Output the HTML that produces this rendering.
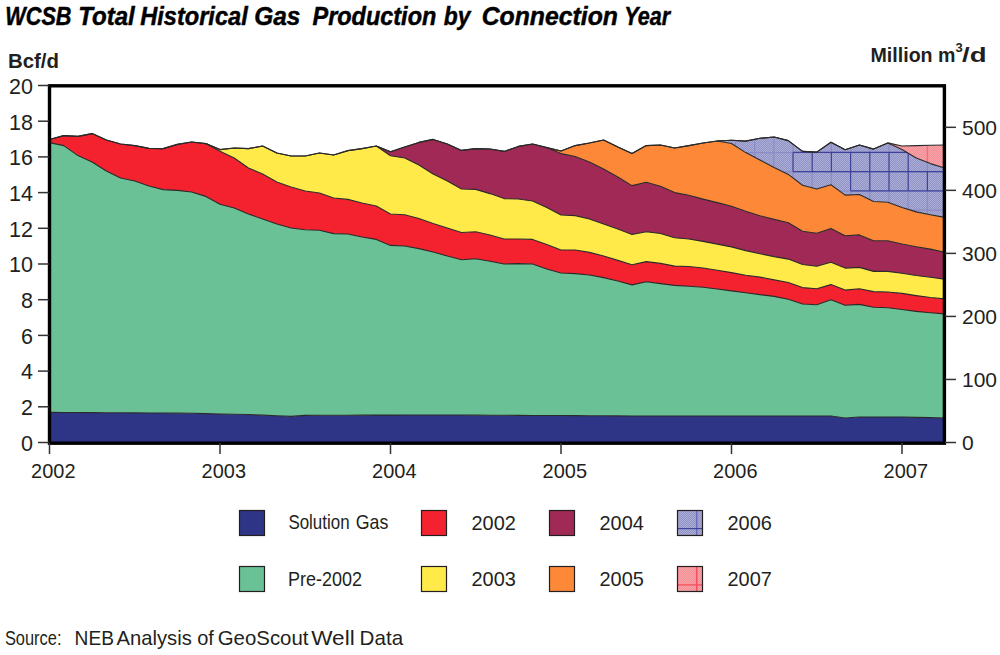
<!DOCTYPE html>
<html><head><meta charset="utf-8"><style>html,body{margin:0;padding:0;background:#fff;width:1000px;height:655px;overflow:hidden;position:relative}</style></head>
<body>
<svg width="1000" height="655" viewBox="0 0 1000 655" style="position:absolute;left:0;top:0">
<defs>
<pattern id="dz" width="2" height="2" patternUnits="userSpaceOnUse"><rect x="0" y="0" width="1" height="1" fill="#fff" opacity="0.16"/><rect x="1" y="1" width="1" height="1" fill="#fff" opacity="0.16"/><rect x="1" y="0" width="1" height="1" fill="#1a1f80" opacity="0.08"/><rect x="0" y="1" width="1" height="1" fill="#1a1f80" opacity="0.08"/></pattern>
<pattern id="dp" width="2" height="2" patternUnits="userSpaceOnUse"><rect x="0" y="0" width="1" height="1" fill="#fff" opacity="0.16"/><rect x="1" y="1" width="1" height="1" fill="#fff" opacity="0.16"/><rect x="1" y="0" width="1" height="1" fill="#e0202e" opacity="0.08"/><rect x="0" y="1" width="1" height="1" fill="#e0202e" opacity="0.08"/></pattern>
<clipPath id="c6"><path d="M717.29,141.00 L731.50,140.30 L745.71,141.10 L759.91,138.30 L774.12,137.00 L788.33,140.60 L802.54,151.40 L816.75,152.10 L830.96,142.20 L845.16,149.80 L859.37,145.00 L873.58,149.10 L887.79,142.90 L902.00,149.50 L916.21,158.00 L930.41,163.60 L944.62,168.00 L944.62,217.40 L930.41,214.70 L916.21,211.90 L902.00,207.50 L887.79,202.20 L873.58,201.50 L859.37,194.50 L845.16,195.10 L830.96,184.80 L816.75,189.00 L802.54,185.30 L788.33,174.40 L774.12,167.50 L759.91,160.00 L745.71,152.60 L731.50,143.50 L717.29,141.00Z"/></clipPath><clipPath id="c7"><path d="M887.79,142.90 L902.00,146.00 L916.21,145.60 L930.41,145.30 L944.62,145.00 L944.62,168.00 L930.41,163.60 L916.21,158.00 L902.00,149.50 L887.79,142.90Z"/></clipPath>
<clipPath id="plot"><rect x="49.5" y="85.8" width="895" height="357"/></clipPath>
</defs>
<g clip-path="url(#plot)">
<path d="M49.50,412.40 L63.71,412.47 L77.92,412.53 L92.12,412.60 L106.33,412.70 L120.54,412.80 L134.75,412.90 L148.96,413.00 L163.17,413.07 L177.37,413.13 L191.58,413.20 L205.79,413.60 L220.00,414.00 L234.21,414.25 L248.42,414.50 L262.62,415.15 L276.83,415.80 L291.04,416.40 L305.25,415.40 L319.46,415.30 L333.67,415.20 L347.87,415.18 L362.08,415.15 L376.29,415.12 L390.50,415.10 L404.71,415.07 L418.92,415.05 L433.12,415.02 L447.33,415.00 L461.54,415.07 L475.75,415.14 L489.96,415.21 L504.17,415.29 L518.37,415.36 L532.58,415.43 L546.79,415.50 L561.00,415.57 L575.21,415.64 L589.42,415.71 L603.62,415.79 L617.83,415.86 L632.04,415.93 L646.25,416.00 L660.46,416.00 L674.67,416.00 L688.87,416.00 L703.08,416.00 L717.29,416.00 L731.50,416.00 L745.71,416.00 L759.91,416.00 L774.12,416.00 L788.33,416.00 L802.54,416.00 L816.75,416.00 L830.96,416.00 L845.16,418.00 L859.37,417.00 L873.58,417.00 L887.79,417.00 L902.00,417.00 L916.21,417.33 L930.41,417.67 L944.62,418.00 L944.62,442.75 L930.41,442.75 L916.21,442.75 L902.00,442.75 L887.79,442.75 L873.58,442.75 L859.37,442.75 L845.16,442.75 L830.96,442.75 L816.75,442.75 L802.54,442.75 L788.33,442.75 L774.12,442.75 L759.91,442.75 L745.71,442.75 L731.50,442.75 L717.29,442.75 L703.08,442.75 L688.87,442.75 L674.67,442.75 L660.46,442.75 L646.25,442.75 L632.04,442.75 L617.83,442.75 L603.62,442.75 L589.42,442.75 L575.21,442.75 L561.00,442.75 L546.79,442.75 L532.58,442.75 L518.37,442.75 L504.17,442.75 L489.96,442.75 L475.75,442.75 L461.54,442.75 L447.33,442.75 L433.12,442.75 L418.92,442.75 L404.71,442.75 L390.50,442.75 L376.29,442.75 L362.08,442.75 L347.87,442.75 L333.67,442.75 L319.46,442.75 L305.25,442.75 L291.04,442.75 L276.83,442.75 L262.62,442.75 L248.42,442.75 L234.21,442.75 L220.00,442.75 L205.79,442.75 L191.58,442.75 L177.37,442.75 L163.17,442.75 L148.96,442.75 L134.75,442.75 L120.54,442.75 L106.33,442.75 L92.12,442.75 L77.92,442.75 L63.71,442.75 L49.50,442.75Z" fill="#2f3586" />
<path d="M49.50,142.60 L63.71,145.60 L77.92,155.60 L92.12,162.00 L106.33,171.00 L120.54,178.00 L134.75,181.00 L148.96,186.00 L163.17,189.60 L177.37,190.40 L191.58,192.00 L205.79,196.40 L220.00,204.20 L234.21,208.00 L248.42,214.00 L262.62,219.00 L276.83,224.00 L291.04,228.00 L305.25,229.80 L319.46,230.20 L333.67,233.60 L347.87,234.00 L362.08,237.00 L376.29,239.40 L390.50,245.40 L404.71,246.00 L418.92,248.60 L433.12,252.00 L447.33,256.00 L461.54,259.80 L475.75,258.80 L489.96,261.30 L504.17,264.00 L518.37,263.60 L532.58,264.00 L546.79,269.00 L561.00,273.00 L575.21,273.60 L589.42,275.00 L603.62,277.60 L617.83,281.00 L632.04,284.90 L646.25,281.70 L660.46,283.60 L674.67,285.40 L688.87,286.30 L703.08,287.20 L717.29,289.00 L731.50,290.90 L745.71,292.70 L759.91,294.60 L774.12,296.40 L788.33,299.30 L802.54,304.00 L816.75,304.80 L830.96,299.80 L845.16,305.30 L859.37,304.40 L873.58,307.20 L887.79,307.70 L902.00,309.50 L916.21,311.40 L930.41,312.70 L944.62,313.90 L944.62,418.00 L930.41,417.67 L916.21,417.33 L902.00,417.00 L887.79,417.00 L873.58,417.00 L859.37,417.00 L845.16,418.00 L830.96,416.00 L816.75,416.00 L802.54,416.00 L788.33,416.00 L774.12,416.00 L759.91,416.00 L745.71,416.00 L731.50,416.00 L717.29,416.00 L703.08,416.00 L688.87,416.00 L674.67,416.00 L660.46,416.00 L646.25,416.00 L632.04,415.93 L617.83,415.86 L603.62,415.79 L589.42,415.71 L575.21,415.64 L561.00,415.57 L546.79,415.50 L532.58,415.43 L518.37,415.36 L504.17,415.29 L489.96,415.21 L475.75,415.14 L461.54,415.07 L447.33,415.00 L433.12,415.02 L418.92,415.05 L404.71,415.07 L390.50,415.10 L376.29,415.12 L362.08,415.15 L347.87,415.18 L333.67,415.20 L319.46,415.30 L305.25,415.40 L291.04,416.40 L276.83,415.80 L262.62,415.15 L248.42,414.50 L234.21,414.25 L220.00,414.00 L205.79,413.60 L191.58,413.20 L177.37,413.13 L163.17,413.07 L148.96,413.00 L134.75,412.90 L120.54,412.80 L106.33,412.70 L92.12,412.60 L77.92,412.53 L63.71,412.47 L49.50,412.40Z" fill="#6ac196" />
<path d="M49.50,139.50 L63.71,135.60 L77.92,136.40 L92.12,133.60 L106.33,140.00 L120.54,144.00 L134.75,145.60 L148.96,148.40 L163.17,148.60 L177.37,144.40 L191.58,142.00 L205.79,143.60 L220.00,151.20 L234.21,158.00 L248.42,168.00 L262.62,174.00 L276.83,182.00 L291.04,187.00 L305.25,191.00 L319.46,193.00 L333.67,198.00 L347.87,199.40 L362.08,203.00 L376.29,206.00 L390.50,214.00 L404.71,214.80 L418.92,218.50 L433.12,223.50 L447.33,228.00 L461.54,232.50 L475.75,231.80 L489.96,235.00 L504.17,239.00 L518.37,239.00 L532.58,239.40 L546.79,244.40 L561.00,250.00 L575.21,250.00 L589.42,252.40 L603.62,256.00 L617.83,260.40 L632.04,264.80 L646.25,261.60 L660.46,263.40 L674.67,266.10 L688.87,266.50 L703.08,268.00 L717.29,270.20 L731.50,272.60 L745.71,275.30 L759.91,277.10 L774.12,279.90 L788.33,282.50 L802.54,287.60 L816.75,288.80 L830.96,284.60 L845.16,290.10 L859.37,288.80 L873.58,291.60 L887.79,292.00 L902.00,293.40 L916.21,295.60 L930.41,297.50 L944.62,298.90 L944.62,313.90 L930.41,312.70 L916.21,311.40 L902.00,309.50 L887.79,307.70 L873.58,307.20 L859.37,304.40 L845.16,305.30 L830.96,299.80 L816.75,304.80 L802.54,304.00 L788.33,299.30 L774.12,296.40 L759.91,294.60 L745.71,292.70 L731.50,290.90 L717.29,289.00 L703.08,287.20 L688.87,286.30 L674.67,285.40 L660.46,283.60 L646.25,281.70 L632.04,284.90 L617.83,281.00 L603.62,277.60 L589.42,275.00 L575.21,273.60 L561.00,273.00 L546.79,269.00 L532.58,264.00 L518.37,263.60 L504.17,264.00 L489.96,261.30 L475.75,258.80 L461.54,259.80 L447.33,256.00 L433.12,252.00 L418.92,248.60 L404.71,246.00 L390.50,245.40 L376.29,239.40 L362.08,237.00 L347.87,234.00 L333.67,233.60 L319.46,230.20 L305.25,229.80 L291.04,228.00 L276.83,224.00 L262.62,219.00 L248.42,214.00 L234.21,208.00 L220.00,204.20 L205.79,196.40 L191.58,192.00 L177.37,190.40 L163.17,189.60 L148.96,186.00 L134.75,181.00 L120.54,178.00 L106.33,171.00 L92.12,162.00 L77.92,155.60 L63.71,145.60 L49.50,142.60Z" fill="#f4222e" />
<path d="M205.79,143.60 L220.00,149.60 L234.21,148.00 L248.42,148.60 L262.62,146.00 L276.83,153.00 L291.04,156.00 L305.25,156.00 L319.46,153.00 L333.67,155.00 L347.87,150.60 L362.08,148.60 L376.29,146.00 L390.50,155.80 L404.71,158.00 L418.92,165.00 L433.12,174.00 L447.33,181.00 L461.54,189.00 L475.75,189.40 L489.96,193.60 L504.17,198.60 L518.37,199.00 L532.58,201.00 L546.79,207.50 L561.00,215.00 L575.21,215.60 L589.42,219.00 L603.62,224.00 L617.83,229.00 L632.04,234.50 L646.25,231.70 L660.46,233.50 L674.67,237.70 L688.87,239.00 L703.08,241.40 L717.29,244.10 L731.50,246.90 L745.71,250.60 L759.91,253.70 L774.12,256.60 L788.33,259.10 L802.54,264.50 L816.75,266.30 L830.96,262.30 L845.16,268.10 L859.37,267.40 L873.58,271.40 L887.79,271.40 L902.00,273.30 L916.21,275.50 L930.41,277.30 L944.62,279.10 L944.62,298.90 L930.41,297.50 L916.21,295.60 L902.00,293.40 L887.79,292.00 L873.58,291.60 L859.37,288.80 L845.16,290.10 L830.96,284.60 L816.75,288.80 L802.54,287.60 L788.33,282.50 L774.12,279.90 L759.91,277.10 L745.71,275.30 L731.50,272.60 L717.29,270.20 L703.08,268.00 L688.87,266.50 L674.67,266.10 L660.46,263.40 L646.25,261.60 L632.04,264.80 L617.83,260.40 L603.62,256.00 L589.42,252.40 L575.21,250.00 L561.00,250.00 L546.79,244.40 L532.58,239.40 L518.37,239.00 L504.17,239.00 L489.96,235.00 L475.75,231.80 L461.54,232.50 L447.33,228.00 L433.12,223.50 L418.92,218.50 L404.71,214.80 L390.50,214.00 L376.29,206.00 L362.08,203.00 L347.87,199.40 L333.67,198.00 L319.46,193.00 L305.25,191.00 L291.04,187.00 L276.83,182.00 L262.62,174.00 L248.42,168.00 L234.21,158.00 L220.00,151.20 L205.79,143.60Z" fill="#ffea4a" />
<path d="M376.29,146.00 L390.50,151.80 L404.71,147.00 L418.92,142.40 L433.12,139.40 L447.33,144.00 L461.54,150.40 L475.75,148.60 L489.96,149.00 L504.17,151.40 L518.37,146.40 L532.58,144.00 L546.79,147.60 L561.00,153.60 L575.21,156.50 L589.42,162.00 L603.62,169.00 L617.83,177.00 L632.04,185.60 L646.25,182.30 L660.46,186.20 L674.67,192.60 L688.87,195.30 L703.08,199.10 L717.29,202.60 L731.50,206.30 L745.71,211.20 L759.91,215.70 L774.12,219.40 L788.33,222.70 L802.54,231.20 L816.75,233.30 L830.96,228.40 L845.16,235.80 L859.37,234.90 L873.58,240.70 L887.79,240.70 L902.00,244.00 L916.21,246.70 L930.41,249.10 L944.62,252.20 L944.62,279.10 L930.41,277.30 L916.21,275.50 L902.00,273.30 L887.79,271.40 L873.58,271.40 L859.37,267.40 L845.16,268.10 L830.96,262.30 L816.75,266.30 L802.54,264.50 L788.33,259.10 L774.12,256.60 L759.91,253.70 L745.71,250.60 L731.50,246.90 L717.29,244.10 L703.08,241.40 L688.87,239.00 L674.67,237.70 L660.46,233.50 L646.25,231.70 L632.04,234.50 L617.83,229.00 L603.62,224.00 L589.42,219.00 L575.21,215.60 L561.00,215.00 L546.79,207.50 L532.58,201.00 L518.37,199.00 L504.17,198.60 L489.96,193.60 L475.75,189.40 L461.54,189.00 L447.33,181.00 L433.12,174.00 L418.92,165.00 L404.71,158.00 L390.50,155.80 L376.29,146.00Z" fill="#a02a55" />
<path d="M546.79,147.60 L561.00,151.00 L575.21,145.60 L589.42,143.00 L603.62,140.00 L617.83,147.00 L632.04,153.40 L646.25,145.60 L660.46,145.00 L674.67,148.00 L688.87,145.60 L703.08,143.00 L717.29,141.00 L731.50,143.50 L745.71,152.60 L759.91,160.00 L774.12,167.50 L788.33,174.40 L802.54,185.30 L816.75,189.00 L830.96,184.80 L845.16,195.10 L859.37,194.50 L873.58,201.50 L887.79,202.20 L902.00,207.50 L916.21,211.90 L930.41,214.70 L944.62,217.40 L944.62,252.20 L930.41,249.10 L916.21,246.70 L902.00,244.00 L887.79,240.70 L873.58,240.70 L859.37,234.90 L845.16,235.80 L830.96,228.40 L816.75,233.30 L802.54,231.20 L788.33,222.70 L774.12,219.40 L759.91,215.70 L745.71,211.20 L731.50,206.30 L717.29,202.60 L703.08,199.10 L688.87,195.30 L674.67,192.60 L660.46,186.20 L646.25,182.30 L632.04,185.60 L617.83,177.00 L603.62,169.00 L589.42,162.00 L575.21,156.50 L561.00,153.60 L546.79,147.60Z" fill="#fd8938" />
<path d="M717.29,141.00 L731.50,140.30 L745.71,141.10 L759.91,138.30 L774.12,137.00 L788.33,140.60 L802.54,151.40 L816.75,152.10 L830.96,142.20 L845.16,149.80 L859.37,145.00 L873.58,149.10 L887.79,142.90 L902.00,149.50 L916.21,158.00 L930.41,163.60 L944.62,168.00 L944.62,217.40 L930.41,214.70 L916.21,211.90 L902.00,207.50 L887.79,202.20 L873.58,201.50 L859.37,194.50 L845.16,195.10 L830.96,184.80 L816.75,189.00 L802.54,185.30 L788.33,174.40 L774.12,167.50 L759.91,160.00 L745.71,152.60 L731.50,143.50 L717.29,141.00Z" fill="#9b9dcc" />
<path d="M887.79,142.90 L902.00,146.00 L916.21,145.60 L930.41,145.30 L944.62,145.00 L944.62,168.00 L930.41,163.60 L916.21,158.00 L902.00,149.50 L887.79,142.90Z" fill="#f6959b" />
<path d="M717.29,141.00 L731.50,140.30 L745.71,141.10 L759.91,138.30 L774.12,137.00 L788.33,140.60 L802.54,151.40 L816.75,152.10 L830.96,142.20 L845.16,149.80 L859.37,145.00 L873.58,149.10 L887.79,142.90 L902.00,149.50 L916.21,158.00 L930.41,163.60 L944.62,168.00 L944.62,217.40 L930.41,214.70 L916.21,211.90 L902.00,207.50 L887.79,202.20 L873.58,201.50 L859.37,194.50 L845.16,195.10 L830.96,184.80 L816.75,189.00 L802.54,185.30 L788.33,174.40 L774.12,167.50 L759.91,160.00 L745.71,152.60 L731.50,143.50 L717.29,141.00Z" fill="url(#dz)"/><path d="M887.79,142.90 L902.00,146.00 L916.21,145.60 L930.41,145.30 L944.62,145.00 L944.62,168.00 L930.41,163.60 L916.21,158.00 L902.00,149.50 L887.79,142.90Z" fill="url(#dp)"/><g clip-path="url(#c6)"><g stroke="#8a8cc3" stroke-width="1.2" fill="none"><line x1="735.4" y1="120" x2="735.4" y2="260"/><line x1="754.6" y1="120" x2="754.6" y2="260"/><line x1="773.8" y1="120" x2="773.8" y2="260"/><line x1="793.0" y1="120" x2="793.0" y2="260"/><line x1="812.2" y1="120" x2="812.2" y2="260"/><line x1="831.4" y1="120" x2="831.4" y2="260"/><line x1="850.6" y1="120" x2="850.6" y2="260"/><line x1="869.8" y1="120" x2="869.8" y2="260"/><line x1="889.0" y1="120" x2="889.0" y2="260"/><line x1="908.2" y1="120" x2="908.2" y2="260"/><line x1="927.4" y1="120" x2="927.4" y2="260"/><line x1="946.6" y1="120" x2="946.6" y2="260"/><line x1="700" y1="133.4" x2="950" y2="133.4"/><line x1="700" y1="152.6" x2="950" y2="152.6"/><line x1="700" y1="171.8" x2="950" y2="171.8"/><line x1="700" y1="191.0" x2="950" y2="191.0"/><line x1="700" y1="210.2" x2="950" y2="210.2"/><line x1="700" y1="229.4" x2="950" y2="229.4"/></g><g stroke="#2b2f8f" stroke-width="1.15" opacity="0.8"><line x1="793" y1="152.4" x2="908.2" y2="152.4"/><line x1="793" y1="171.6" x2="945" y2="171.6"/><line x1="850.6" y1="190.8" x2="945" y2="190.8"/><line x1="793" y1="152.4" x2="793" y2="171.6"/><line x1="812.2" y1="152.4" x2="812.2" y2="171.6"/><line x1="831.4" y1="152.4" x2="831.4" y2="171.6"/><line x1="850.6" y1="152.4" x2="850.6" y2="190.8"/><line x1="869.8" y1="152.4" x2="869.8" y2="190.8"/><line x1="889" y1="152.4" x2="889" y2="190.8"/><line x1="908.2" y1="152.4" x2="908.2" y2="190.8"/><line x1="927.4" y1="171.6" x2="927.4" y2="190.8"/></g></g>
<g clip-path="url(#c7)"><g stroke="#f0707a" stroke-width="1.4"><line x1="927.4" y1="120" x2="927.4" y2="200"/></g></g>
<polyline points="49.50,412.40 63.71,412.47 77.92,412.53 92.12,412.60 106.33,412.70 120.54,412.80 134.75,412.90 148.96,413.00 163.17,413.07 177.37,413.13 191.58,413.20 205.79,413.60 220.00,414.00 234.21,414.25 248.42,414.50 262.62,415.15 276.83,415.80 291.04,416.40 305.25,415.40 319.46,415.30 333.67,415.20 347.87,415.18 362.08,415.15 376.29,415.12 390.50,415.10 404.71,415.07 418.92,415.05 433.12,415.02 447.33,415.00 461.54,415.07 475.75,415.14 489.96,415.21 504.17,415.29 518.37,415.36 532.58,415.43 546.79,415.50 561.00,415.57 575.21,415.64 589.42,415.71 603.62,415.79 617.83,415.86 632.04,415.93 646.25,416.00 660.46,416.00 674.67,416.00 688.87,416.00 703.08,416.00 717.29,416.00 731.50,416.00 745.71,416.00 759.91,416.00 774.12,416.00 788.33,416.00 802.54,416.00 816.75,416.00 830.96,416.00 845.16,418.00 859.37,417.00 873.58,417.00 887.79,417.00 902.00,417.00 916.21,417.33 930.41,417.67 944.62,418.00" fill="none" stroke="#2a2a2a" stroke-width="1.1" stroke-linejoin="round"/>
<polyline points="49.50,142.60 63.71,145.60 77.92,155.60 92.12,162.00 106.33,171.00 120.54,178.00 134.75,181.00 148.96,186.00 163.17,189.60 177.37,190.40 191.58,192.00 205.79,196.40 220.00,204.20 234.21,208.00 248.42,214.00 262.62,219.00 276.83,224.00 291.04,228.00 305.25,229.80 319.46,230.20 333.67,233.60 347.87,234.00 362.08,237.00 376.29,239.40 390.50,245.40 404.71,246.00 418.92,248.60 433.12,252.00 447.33,256.00 461.54,259.80 475.75,258.80 489.96,261.30 504.17,264.00 518.37,263.60 532.58,264.00 546.79,269.00 561.00,273.00 575.21,273.60 589.42,275.00 603.62,277.60 617.83,281.00 632.04,284.90 646.25,281.70 660.46,283.60 674.67,285.40 688.87,286.30 703.08,287.20 717.29,289.00 731.50,290.90 745.71,292.70 759.91,294.60 774.12,296.40 788.33,299.30 802.54,304.00 816.75,304.80 830.96,299.80 845.16,305.30 859.37,304.40 873.58,307.20 887.79,307.70 902.00,309.50 916.21,311.40 930.41,312.70 944.62,313.90" fill="none" stroke="#2a2a2a" stroke-width="1.1" stroke-linejoin="round"/>
<polyline points="49.50,139.50 63.71,135.60 77.92,136.40 92.12,133.60 106.33,140.00 120.54,144.00 134.75,145.60 148.96,148.40 163.17,148.60 177.37,144.40 191.58,142.00 205.79,143.60 220.00,151.20 234.21,158.00 248.42,168.00 262.62,174.00 276.83,182.00 291.04,187.00 305.25,191.00 319.46,193.00 333.67,198.00 347.87,199.40 362.08,203.00 376.29,206.00 390.50,214.00 404.71,214.80 418.92,218.50 433.12,223.50 447.33,228.00 461.54,232.50 475.75,231.80 489.96,235.00 504.17,239.00 518.37,239.00 532.58,239.40 546.79,244.40 561.00,250.00 575.21,250.00 589.42,252.40 603.62,256.00 617.83,260.40 632.04,264.80 646.25,261.60 660.46,263.40 674.67,266.10 688.87,266.50 703.08,268.00 717.29,270.20 731.50,272.60 745.71,275.30 759.91,277.10 774.12,279.90 788.33,282.50 802.54,287.60 816.75,288.80 830.96,284.60 845.16,290.10 859.37,288.80 873.58,291.60 887.79,292.00 902.00,293.40 916.21,295.60 930.41,297.50 944.62,298.90" fill="none" stroke="#2a2a2a" stroke-width="1.1" stroke-linejoin="round"/>
<polyline points="205.79,143.60 220.00,149.60 234.21,148.00 248.42,148.60 262.62,146.00 276.83,153.00 291.04,156.00 305.25,156.00 319.46,153.00 333.67,155.00 347.87,150.60 362.08,148.60 376.29,146.00 390.50,155.80 404.71,158.00 418.92,165.00 433.12,174.00 447.33,181.00 461.54,189.00 475.75,189.40 489.96,193.60 504.17,198.60 518.37,199.00 532.58,201.00 546.79,207.50 561.00,215.00 575.21,215.60 589.42,219.00 603.62,224.00 617.83,229.00 632.04,234.50 646.25,231.70 660.46,233.50 674.67,237.70 688.87,239.00 703.08,241.40 717.29,244.10 731.50,246.90 745.71,250.60 759.91,253.70 774.12,256.60 788.33,259.10 802.54,264.50 816.75,266.30 830.96,262.30 845.16,268.10 859.37,267.40 873.58,271.40 887.79,271.40 902.00,273.30 916.21,275.50 930.41,277.30 944.62,279.10" fill="none" stroke="#2a2a2a" stroke-width="1.1" stroke-linejoin="round"/>
<polyline points="376.29,146.00 390.50,151.80 404.71,147.00 418.92,142.40 433.12,139.40 447.33,144.00 461.54,150.40 475.75,148.60 489.96,149.00 504.17,151.40 518.37,146.40 532.58,144.00 546.79,147.60 561.00,153.60 575.21,156.50 589.42,162.00 603.62,169.00 617.83,177.00 632.04,185.60 646.25,182.30 660.46,186.20 674.67,192.60 688.87,195.30 703.08,199.10 717.29,202.60 731.50,206.30 745.71,211.20 759.91,215.70 774.12,219.40 788.33,222.70 802.54,231.20 816.75,233.30 830.96,228.40 845.16,235.80 859.37,234.90 873.58,240.70 887.79,240.70 902.00,244.00 916.21,246.70 930.41,249.10 944.62,252.20" fill="none" stroke="#2a2a2a" stroke-width="1.1" stroke-linejoin="round"/>
<polyline points="546.79,147.60 561.00,151.00 575.21,145.60 589.42,143.00 603.62,140.00 617.83,147.00 632.04,153.40 646.25,145.60 660.46,145.00 674.67,148.00 688.87,145.60 703.08,143.00 717.29,141.00 731.50,143.50 745.71,152.60 759.91,160.00 774.12,167.50 788.33,174.40 802.54,185.30 816.75,189.00 830.96,184.80 845.16,195.10 859.37,194.50 873.58,201.50 887.79,202.20 902.00,207.50 916.21,211.90 930.41,214.70 944.62,217.40" fill="none" stroke="#2a2a2a" stroke-width="1.1" stroke-linejoin="round"/>
<polyline points="717.29,141.00 731.50,140.30 745.71,141.10 759.91,138.30 774.12,137.00 788.33,140.60 802.54,151.40 816.75,152.10 830.96,142.20 845.16,149.80 859.37,145.00 873.58,149.10 887.79,142.90 902.00,149.50 916.21,158.00 930.41,163.60 944.62,168.00" fill="none" stroke="#2a2a2a" stroke-width="1.1" stroke-linejoin="round"/>
<polyline points="49.50,139.50 63.71,135.60 77.92,136.40 92.12,133.60 106.33,140.00 120.54,144.00 134.75,145.60 148.96,148.40 163.17,148.60 177.37,144.40 191.58,142.00 205.79,143.60 220.00,149.60 234.21,148.00 248.42,148.60 262.62,146.00 276.83,153.00 291.04,156.00 305.25,156.00 319.46,153.00 333.67,155.00 347.87,150.60 362.08,148.60 376.29,146.00 390.50,151.80 404.71,147.00 418.92,142.40 433.12,139.40 447.33,144.00 461.54,150.40 475.75,148.60 489.96,149.00 504.17,151.40 518.37,146.40 532.58,144.00 546.79,147.60 561.00,151.00 575.21,145.60 589.42,143.00 603.62,140.00 617.83,147.00 632.04,153.40 646.25,145.60 660.46,145.00 674.67,148.00 688.87,145.60 703.08,143.00 717.29,141.00 731.50,140.30 745.71,141.10 759.91,138.30 774.12,137.00 788.33,140.60 802.54,151.40 816.75,152.10 830.96,142.20 845.16,149.80 859.37,145.00 873.58,149.10 887.79,142.90 902.00,146.00 916.21,145.60 930.41,145.30 944.62,145.00" fill="none" stroke="#2a2a2a" stroke-width="1.1" stroke-linejoin="round"/>
</g>
<rect x="49.5" y="85.8" width="894.9" height="357.4" fill="none" stroke="#000" stroke-width="3.4"/>
<g stroke="#333" stroke-width="1.5"><line x1="38" y1="442.50" x2="49" y2="442.50"/><line x1="38" y1="406.80" x2="49" y2="406.80"/><line x1="38" y1="371.10" x2="49" y2="371.10"/><line x1="38" y1="335.40" x2="49" y2="335.40"/><line x1="38" y1="299.70" x2="49" y2="299.70"/><line x1="38" y1="264.00" x2="49" y2="264.00"/><line x1="38" y1="228.30" x2="49" y2="228.30"/><line x1="38" y1="192.60" x2="49" y2="192.60"/><line x1="38" y1="156.90" x2="49" y2="156.90"/><line x1="38" y1="121.20" x2="49" y2="121.20"/><line x1="38" y1="85.50" x2="49" y2="85.50"/><line x1="945" y1="442.50" x2="956" y2="442.50"/><line x1="945" y1="379.46" x2="956" y2="379.46"/><line x1="945" y1="316.43" x2="956" y2="316.43"/><line x1="945" y1="253.39" x2="956" y2="253.39"/><line x1="945" y1="190.35" x2="956" y2="190.35"/><line x1="945" y1="127.32" x2="956" y2="127.32"/><line x1="49.50" y1="443" x2="49.50" y2="454"/><line x1="220.00" y1="443" x2="220.00" y2="454"/><line x1="390.50" y1="443" x2="390.50" y2="454"/><line x1="561.00" y1="443" x2="561.00" y2="454"/><line x1="731.50" y1="443" x2="731.50" y2="454"/><line x1="902.00" y1="443" x2="902.00" y2="454"/></g>
<g font-family="Liberation Sans, sans-serif" font-size="21" fill="#231f20"><text x="33" y="450.8" text-anchor="end" font-size="21.5">0</text><text x="33" y="415.1" text-anchor="end" font-size="21.5">2</text><text x="33" y="379.4" text-anchor="end" font-size="21.5">4</text><text x="33" y="343.7" text-anchor="end" font-size="21.5">6</text><text x="33" y="308.0" text-anchor="end" font-size="21.5">8</text><text x="33" y="272.3" text-anchor="end" font-size="21.5">10</text><text x="33" y="236.6" text-anchor="end" font-size="21.5">12</text><text x="33" y="200.9" text-anchor="end" font-size="21.5">14</text><text x="33" y="165.2" text-anchor="end" font-size="21.5">16</text><text x="33" y="129.5" text-anchor="end" font-size="21.5">18</text><text x="33" y="93.8" text-anchor="end" font-size="21.5">20</text><text x="962" y="450.1">0</text><text x="962" y="387.1">100</text><text x="962" y="324.0">200</text><text x="962" y="261.0">300</text><text x="962" y="198.0">400</text><text x="962" y="134.9">500</text><text x="31.10" y="478.3" textLength="44.4" lengthAdjust="spacingAndGlyphs">2002</text><text x="201.60" y="478.3" textLength="44.4" lengthAdjust="spacingAndGlyphs">2003</text><text x="372.10" y="478.3" textLength="44.4" lengthAdjust="spacingAndGlyphs">2004</text><text x="542.60" y="478.3" textLength="44.4" lengthAdjust="spacingAndGlyphs">2005</text><text x="713.10" y="478.3" textLength="44.4" lengthAdjust="spacingAndGlyphs">2006</text><text x="883.60" y="478.3" textLength="44.4" lengthAdjust="spacingAndGlyphs">2007</text></g>
<g font-family="Liberation Sans, sans-serif" font-size="25" font-weight="bold" font-style="italic" fill="#000" stroke="#000" stroke-width="0.45"><text x="5.3" y="24.8" textLength="66.2" lengthAdjust="spacingAndGlyphs">WCSB</text><text x="78.2" y="24.8" textLength="56.6" lengthAdjust="spacingAndGlyphs">Total</text><text x="140.2" y="24.8" textLength="107.5" lengthAdjust="spacingAndGlyphs">Historical</text><text x="254.2" y="24.8" textLength="46.2" lengthAdjust="spacingAndGlyphs">Gas</text><text x="312.5" y="24.8" textLength="123.8" lengthAdjust="spacingAndGlyphs">Production</text><text x="443.7" y="24.8" textLength="26.7" lengthAdjust="spacingAndGlyphs">by</text><text x="481.7" y="24.8" textLength="136.3" lengthAdjust="spacingAndGlyphs">Connection</text><text x="624.2" y="24.8" textLength="45.9" lengthAdjust="spacingAndGlyphs">Year</text></g>
<text x="8" y="67.9" font-family="Liberation Sans, sans-serif" font-size="20" font-weight="bold" fill="#231f20" textLength="51" lengthAdjust="spacingAndGlyphs">Bcf/d</text>
<text x="870.5" y="61.7" font-family="Liberation Sans, sans-serif" font-size="20" font-weight="bold" fill="#231f20"><tspan textLength="85" lengthAdjust="spacingAndGlyphs">Million m</tspan><tspan x="955.5" y="51.7" font-size="13">3</tspan><tspan x="962" y="61.7" textLength="24.5" lengthAdjust="spacingAndGlyphs">/d</tspan></text>
<g font-family="Liberation Sans, sans-serif" font-size="21" fill="#231f20"><rect x="239.5" y="510.5" width="25" height="25" fill="#2f3586"/><rect x="239.5" y="510.5" width="25" height="25" fill="none" stroke="#231f20" stroke-width="1.2"/><text x="289.5" y="529.6"></text><rect x="239.5" y="566.5" width="25" height="25" fill="#6ac196"/><rect x="239.5" y="566.5" width="25" height="25" fill="none" stroke="#231f20" stroke-width="1.2"/><text x="288.0" y="585.6" textLength="74" lengthAdjust="spacingAndGlyphs">Pre-2002</text><rect x="421.5" y="510.5" width="25" height="25" fill="#f4222e"/><rect x="421.5" y="510.5" width="25" height="25" fill="none" stroke="#231f20" stroke-width="1.2"/><text x="471.5" y="529.6" textLength="44.4" lengthAdjust="spacingAndGlyphs">2002</text><rect x="421.5" y="566.5" width="25" height="25" fill="#ffea4a"/><rect x="421.5" y="566.5" width="25" height="25" fill="none" stroke="#231f20" stroke-width="1.2"/><text x="471.5" y="585.6" textLength="44.4" lengthAdjust="spacingAndGlyphs">2003</text><rect x="549.5" y="510.5" width="25" height="25" fill="#a02a55"/><rect x="549.5" y="510.5" width="25" height="25" fill="none" stroke="#231f20" stroke-width="1.2"/><text x="599.5" y="529.6" textLength="44.4" lengthAdjust="spacingAndGlyphs">2004</text><rect x="549.5" y="566.5" width="25" height="25" fill="#fd8938"/><rect x="549.5" y="566.5" width="25" height="25" fill="none" stroke="#231f20" stroke-width="1.2"/><text x="599.5" y="585.6" textLength="44.4" lengthAdjust="spacingAndGlyphs">2005</text><rect x="677.5" y="510.5" width="25" height="25" fill="#9b9dcc"/><rect x="678" y="511" width="24" height="24" fill="url(#dz)"/><line x1="696.7" y1="511" x2="696.7" y2="535" stroke="#6a6db5" stroke-width="1.5"/><line x1="678" y1="528.6" x2="702" y2="528.6" stroke="#2b2f8f" stroke-width="1.1" opacity="0.85"/><rect x="677.5" y="510.5" width="25" height="25" fill="none" stroke="#231f20" stroke-width="1.2"/><text x="727.5" y="529.6" textLength="44.4" lengthAdjust="spacingAndGlyphs">2006</text><rect x="677.5" y="566.5" width="25" height="25" fill="#f6959b"/><rect x="678" y="567" width="24" height="24" fill="url(#dp)"/><line x1="696.7" y1="567" x2="696.7" y2="591" stroke="#f2505c" stroke-width="1.5"/><line x1="678" y1="584.9" x2="702" y2="584.9" stroke="#f2505c" stroke-width="1.3"/><rect x="677.5" y="566.5" width="25" height="25" fill="none" stroke="#231f20" stroke-width="1.2"/><text x="727.5" y="585.6" textLength="44.4" lengthAdjust="spacingAndGlyphs">2007</text></g>
<text x="288.4" y="528.8" textLength="61.2" lengthAdjust="spacingAndGlyphs" font-family="Liberation Sans, sans-serif" font-size="21" fill="#231f20">Solution</text><text x="355.8" y="528.8" textLength="32.6" lengthAdjust="spacingAndGlyphs" font-family="Liberation Sans, sans-serif" font-size="21" fill="#231f20">Gas</text><g font-family="Liberation Sans, sans-serif" font-size="21" fill="#231f20"><text x="4.9" y="644.6" textLength="56.6" lengthAdjust="spacingAndGlyphs">Source:</text><text x="74.6" y="644.6" textLength="39.4" lengthAdjust="spacingAndGlyphs">NEB</text><text x="116.6" y="644.6" textLength="75.2" lengthAdjust="spacingAndGlyphs">Analysis</text><text x="197.2" y="644.6" textLength="16.7" lengthAdjust="spacingAndGlyphs">of</text><text x="217.7" y="644.6" textLength="90.8" lengthAdjust="spacingAndGlyphs">GeoScout</text><text x="311.2" y="644.6" textLength="43.5" lengthAdjust="spacingAndGlyphs">Well</text><text x="359.6" y="644.6" textLength="43.5" lengthAdjust="spacingAndGlyphs">Data</text></g>
</svg>
</body></html>
